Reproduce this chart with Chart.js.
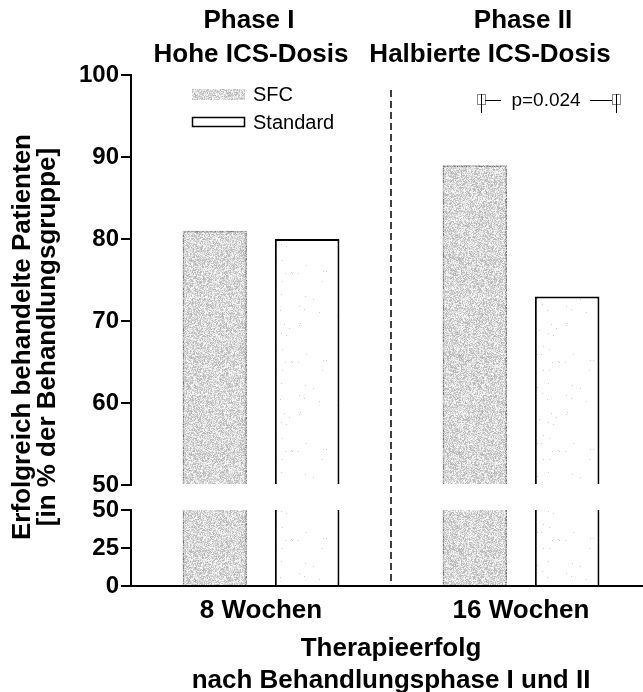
<!DOCTYPE html>
<html>
<head>
<meta charset="utf-8">
<script src="https://cdn.jsdelivr.net/npm/chart.js@4/dist/chart.umd.min.js"></script>
<style>
  html, body { margin: 0; padding: 0; background: #fff; overflow: hidden; }
  #wrap { position: relative; width: 651px; height: 696px; }
</style>
</head>
<body>
<div id="wrap"><canvas id="chart"></canvas></div>
<script>
// data
var categories = ['8 Wochen', '16 Wochen'];
var seriesNames = ['SFC', 'Standard'];
var sfcValues = [81, 89];
var standardValues = [80, 73];
var breakValue = 50;
var upperRange = [50, 100];
var lowerRange = [0, 50];
var upperStep = 10;
var lowerStep = 25;
var phaseTitles = [['Phase I', 'Hohe ICS-Dosis'], ['Phase II', 'Halbierte ICS-Dosis']];
var yTitle = ['Erfolgreich behandelte Patienten', '[in % der Behandlungsgruppe]'];
var xTitle = ['Therapieerfolg', 'nach Behandlungsphase I und II'];
var pLabel = 'p=0.024';

var FONT = '"Liberation Sans", Arial, Helvetica, sans-serif';

var canvas = document.getElementById('chart');
var ctx = canvas.getContext('2d');

// stipple textures (deterministic noise)
function noisePattern(size, seed, shade) {
  var c = document.createElement('canvas');
  c.width = c.height = size;
  var g = c.getContext('2d');
  var img = g.createImageData(size, size);
  var s = seed >>> 0;
  for (var i = 0; i < size * size; i++) {
    s = (Math.imul(s, 1103515245) + 12345) >>> 0;
    var v = shade(s / 4294967296);
    img.data[i * 4] = img.data[i * 4 + 1] = img.data[i * 4 + 2] = v;
    img.data[i * 4 + 3] = 255;
  }
  g.putImageData(img, 0, 0);
  return ctx.createPattern(c, 'repeat');
}

var sfcFill = noisePattern(97, 7, function (r) { return 180 + Math.floor(r * 75); });
var sfcEdge = noisePattern(53, 11, function (r) { return 110 + Math.floor(r * 110); });
var stdFill = noisePattern(89, 3, function (r) { return r < 0.006 ? 205 : 255; });

var sfcLower = sfcValues.map(function (v) { return Math.min(v, breakValue); });
var standardLower = standardValues.map(function (v) { return Math.min(v, breakValue); });

var upperBorder = { top: 2, left: 2, right: 2, bottom: 0 };
var lowerBorder = { top: 0, left: 2, right: 2, bottom: 0 };

var tickFont = { family: FONT, size: 24, weight: 'bold' };
var labelFont = { family: FONT, size: 26, weight: 'bold' };
var TICK_LEN = 10;

var yGrid = { drawOnChartArea: false, drawTicks: true, tickLength: TICK_LEN, color: '#000', tickColor: '#000', lineWidth: 2, tickWidth: 2 };

var extras = {
  id: 'extras',
  afterDraw: function (chart) {
    var c = chart.ctx;
    var x = chart.scales.x;
    var area = chart.chartArea;
    c.save();

    // y tick marks, from the two value scales
    c.strokeStyle = '#000';
    c.lineWidth = 2;
    ['y', 'yLow'].forEach(function (id) {
      var sc = chart.scales[id];
      c.beginPath();
      sc.ticks.forEach(function (t) {
        var py = Math.round(sc.getPixelForValue(t.value));
        c.moveTo(area.left - TICK_LEN, py);
        c.lineTo(area.left, py);
      });
      c.stroke();
    });

    // phase divider
    var mid = x.getPixelForValue(0.5);
    c.lineWidth = 1.5;
    c.setLineDash([7, 4]);
    c.beginPath();
    c.moveTo(mid, 90);
    c.lineTo(mid, area.bottom);
    c.stroke();
    c.setLineDash([]);

    // phase headings
    c.fillStyle = '#000';
    c.textAlign = 'center';
    c.textBaseline = 'middle';
    c.font = 'bold 26px ' + FONT;
    c.fillText(phaseTitles[0][0], 249, 21);
    c.fillText(phaseTitles[0][1], 251, 55);
    c.fillText(phaseTitles[1][0], 523, 21);
    c.fillText(phaseTitles[1][1], 490, 55);

    // y title, rotated
    for (var i = 0; i < yTitle.length; i++) {
      c.save();
      c.translate(23 + i * 25, 337);
      c.rotate(-Math.PI / 2);
      c.fillText(yTitle[i], 0, 0);
      c.restore();
    }

    // legend
    var ds = chart.data.datasets;
    c.font = '20px ' + FONT;
    c.textAlign = 'left';
    c.fillStyle = ds[0].backgroundColor;
    c.fillRect(192, 89, 53, 11);
    c.fillStyle = '#fff';
    c.fillRect(192, 117, 53, 10);
    c.strokeStyle = '#000';
    c.lineWidth = 1.5;
    c.strokeRect(192.5, 117.5, 52, 9);
    c.fillStyle = '#000';
    c.fillText(seriesNames[0], 253, 95);
    c.fillText(seriesNames[1], 253, 123);

    // significance bracket
    c.strokeStyle = '#888';
    c.lineWidth = 1;
    c.strokeRect(477.5, 94.5, 8, 10);
    c.strokeRect(612.5, 94.5, 8, 10);
    c.strokeStyle = '#000';
    c.beginPath();
    c.moveTo(481.5, 94); c.lineTo(481.5, 113);
    c.moveTo(616.5, 94); c.lineTo(616.5, 113);
    c.moveTo(485, 100.5); c.lineTo(501, 100.5);
    c.moveTo(590, 100.5); c.lineTo(612, 100.5);
    c.stroke();
    c.textAlign = 'center';
    c.font = '19px ' + FONT;
    c.fillText(pLabel, 546, 101);

    c.restore();
  }
};

new Chart(canvas, {
  type: 'bar',
  data: {
    labels: categories,
    datasets: [
      { label: seriesNames[0], data: sfcValues, yAxisID: 'y', stack: 'sfc', base: breakValue,
        backgroundColor: sfcFill, borderColor: sfcEdge, borderWidth: upperBorder },
      { label: seriesNames[1], data: standardValues, yAxisID: 'y', stack: 'std', base: breakValue,
        backgroundColor: stdFill, borderColor: '#000', borderWidth: upperBorder },
      { label: seriesNames[0], data: sfcLower, yAxisID: 'yLow', stack: 'sfc',
        backgroundColor: sfcFill, borderColor: sfcEdge, borderWidth: lowerBorder },
      { label: seriesNames[1], data: standardLower, yAxisID: 'yLow', stack: 'std',
        backgroundColor: stdFill, borderColor: '#000', borderWidth: lowerBorder }
    ]
  },
  options: {
    responsive: true,
    maintainAspectRatio: false,
    animation: false,
    categoryPercentage: 0.71,
    barPercentage: 0.7,
    layout: { padding: { left: 71, top: 75, right: 0, bottom: 0 } },
    plugins: { legend: { display: false }, tooltip: { enabled: false } },
    scales: {
      x: {
        type: 'category',
        offset: true,
        z: 1,
        grid: { display: false, drawTicks: false },
        border: { color: '#000', width: 2 },
        ticks: { color: '#000', font: labelFont, padding: 9, maxRotation: 0 },
        title: { display: true, text: xTitle, color: '#000', font: labelFont, padding: { top: 8, bottom: 0 } },
        afterFit: function (s) { s.height = 110; }
      },
      y: {
        type: 'linear', position: 'left', stack: 'v', stackWeight: 410, weight: 3,
        min: upperRange[0], max: upperRange[1],
        ticks: { stepSize: upperStep, autoSkip: false, color: '#000', font: tickFont, padding: 2 },
        grid: yGrid,
        border: { color: '#000', width: 2 },
        afterFit: function (s) { s.width = 60; }
      },
      yGap: {
        type: 'linear', position: 'left', stack: 'v', stackWeight: 25, weight: 2,
        min: 0, max: 1,
        ticks: { display: false },
        grid: { display: false },
        border: { display: false },
        afterFit: function (s) { s.width = 60; }
      },
      yLow: {
        type: 'linear', position: 'left', stack: 'v', stackWeight: 76, weight: 1,
        min: lowerRange[0], max: lowerRange[1],
        ticks: { stepSize: lowerStep, autoSkip: false, color: '#000', font: tickFont, padding: 2 },
        grid: yGrid,
        border: { color: '#000', width: 2 },
        afterFit: function (s) { s.width = 60; }
      }
    }
  },
  plugins: [extras]
});
</script>
</body>
</html>
